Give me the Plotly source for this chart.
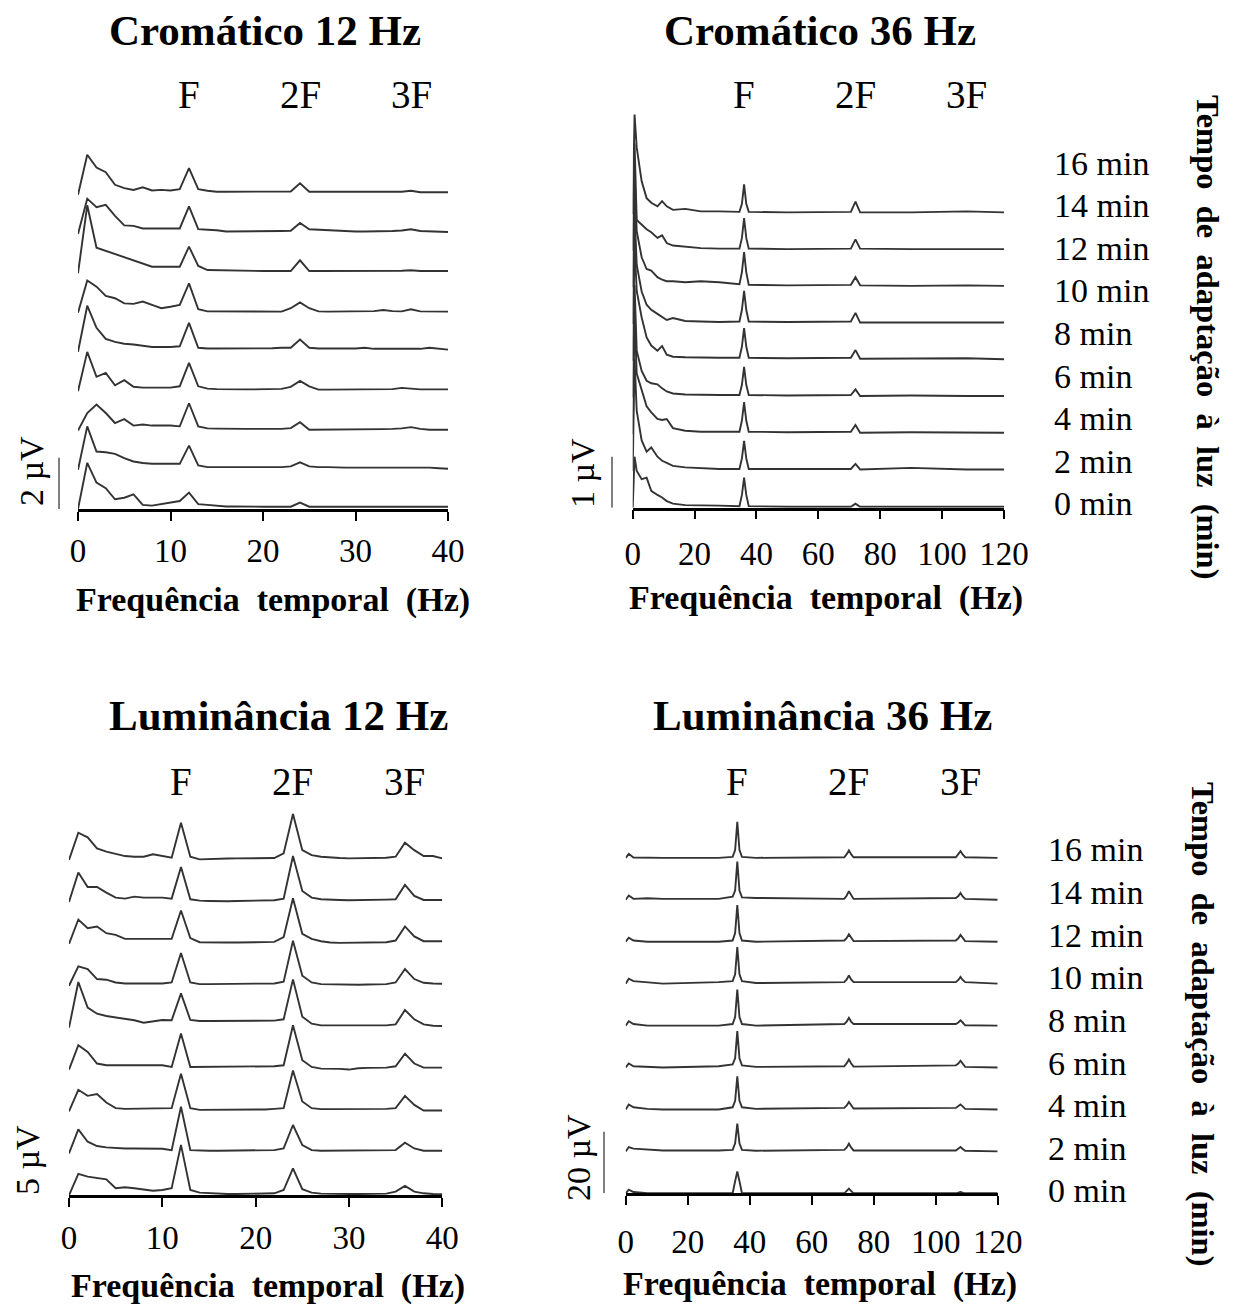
import plotly.graph_objects as go

W, H = 1238, 1307
FONT = "Liberation Serif"
LINE = "#333333"

time_labels = ["0 min", "2 min", "4 min", "6 min", "8 min", "10 min", "12 min", "14 min", "16 min"]

# ---------------- Cromático 12 Hz (µV, 1 Hz bins 0..40) ----------------
freq_12 = list(range(41))
c12_t0 = [0, 1.80, 1.03, 0.81, 0.38, 0.44, 0.57, 0.16, 0.13, 0.19, 0.26, 0.31, 0.64, 0.19, 0.16, 0.12, 0.10, 0.10, 0.09, 0.09, 0.09, 0.09, 0.09, 0.09, 0.25, 0.09, 0.09, 0.09, 0.09, 0.09, 0.09, 0.09, 0.09, 0.09, 0.09, 0.09, 0.10, 0.09, 0.09, 0.09, 0.09]
c12_t2 = [0, 1.69, 0.71, 0.68, 0.62, 0.45, 0.32, 0.26, 0.23, 0.23, 0.23, 0.23, 0.94, 0.17, 0.10, 0.10, 0.10, 0.10, 0.09, 0.09, 0.10, 0.10, 0.10, 0.13, 0.29, 0.13, 0.10, 0.10, 0.08, 0.08, 0.08, 0.08, 0.08, 0.08, 0.08, 0.10, 0.10, 0.10, 0.08, 0.06, 0.04]
c12_t4 = [0, 0.68, 1.01, 0.68, 0.29, 0.44, 0.19, 0.23, 0.19, 0.19, 0.19, 0.16, 1.06, 0.16, 0.08, 0.07, 0.06, 0.06, 0.06, 0.06, 0.06, 0.06, 0.06, 0.09, 0.32, 0.03, 0.03, 0.03, 0.03, 0.03, 0.03, 0.03, 0.04, 0.05, 0.06, 0.08, 0.13, 0.06, 0.03, 0.03, 0.03]
c12_t6 = [0, 1.53, 0.56, 0.71, 0.23, 0.43, 0.17, 0.14, 0.14, 0.14, 0.14, 0.19, 1.10, 0.19, 0.10, 0.08, 0.07, 0.07, 0.07, 0.07, 0.07, 0.08, 0.09, 0.17, 0.40, 0.19, 0.06, 0.06, 0.06, 0.06, 0.06, 0.06, 0.06, 0.07, 0.08, 0.13, 0.10, 0.07, 0.07, 0.07, 0.07]
c12_t8 = [0, 1.80, 0.94, 0.51, 0.39, 0.32, 0.29, 0.25, 0.19, 0.19, 0.19, 0.22, 1.13, 0.16, 0.13, 0.13, 0.13, 0.13, 0.13, 0.13, 0.13, 0.14, 0.16, 0.16, 0.48, 0.16, 0.13, 0.13, 0.12, 0.12, 0.13, 0.16, 0.12, 0.12, 0.12, 0.12, 0.12, 0.12, 0.16, 0.12, 0.09]
c12_t10 = [0, 1.25, 1.01, 0.65, 0.56, 0.36, 0.34, 0.43, 0.30, 0.17, 0.23, 0.30, 1.14, 0.13, 0.05, 0.05, 0.04, 0.04, 0.04, 0.05, 0.04, 0.04, 0.04, 0.17, 0.40, 0.17, 0.05, 0.04, 0.04, 0.04, 0.05, 0.05, 0.06, 0.10, 0.06, 0.05, 0.13, 0.05, 0.04, 0.04, 0.04]
c12_t12 = [0, 2.65, 1.00, 0.88, 0.75, 0.61, 0.50, 0.38, 0.26, 0.26, 0.26, 0.26, 1.04, 0.29, 0.13, 0.12, 0.12, 0.11, 0.10, 0.10, 0.09, 0.09, 0.09, 0.09, 0.51, 0.09, 0.09, 0.09, 0.09, 0.09, 0.09, 0.09, 0.09, 0.09, 0.09, 0.10, 0.12, 0.09, 0.09, 0.09, 0.09]
c12_t14 = [0, 1.38, 1.05, 1.14, 0.71, 0.34, 0.32, 0.22, 0.22, 0.22, 0.22, 0.22, 1.08, 0.19, 0.17, 0.15, 0.10, 0.10, 0.11, 0.11, 0.11, 0.11, 0.12, 0.13, 0.43, 0.19, 0.17, 0.14, 0.12, 0.11, 0.10, 0.10, 0.10, 0.11, 0.12, 0.14, 0.19, 0.12, 0.10, 0.08, 0.08]
c12_t16 = [0, 1.56, 1.06, 0.88, 0.39, 0.26, 0.19, 0.29, 0.17, 0.19, 0.17, 0.22, 1.04, 0.22, 0.16, 0.12, 0.12, 0.12, 0.11, 0.12, 0.12, 0.12, 0.12, 0.13, 0.45, 0.12, 0.12, 0.12, 0.12, 0.12, 0.11, 0.12, 0.12, 0.12, 0.12, 0.12, 0.16, 0.10, 0.10, 0.10, 0.10]

# ---------------- Luminância 12 Hz (µV, 1 Hz bins 0..40) ----------------
l12_t0 = [0, 1.94, 1.70, 1.55, 1.45, 0.64, 0.73, 0.64, 0.55, 0.42, 0.48, 0.64, 4.58, 0.48, 0.24, 0.18, 0.15, 0.12, 0.12, 0.12, 0.12, 0.12, 0.18, 0.48, 2.45, 0.55, 0.24, 0.15, 0.12, 0.12, 0.12, 0.12, 0.12, 0.12, 0.15, 0.33, 0.85, 0.33, 0.18, 0.12, 0.09]
l12_t2 = [0, 2.18, 1.06, 0.67, 0.55, 0.48, 0.45, 0.45, 0.45, 0.42, 0.42, 0.30, 4.24, 0.30, 0.24, 0.24, 0.24, 0.24, 0.24, 0.24, 0.24, 0.27, 0.30, 0.45, 2.58, 0.76, 0.30, 0.24, 0.24, 0.24, 0.24, 0.24, 0.24, 0.24, 0.24, 0.30, 0.97, 0.45, 0.24, 0.24, 0.24]
l12_t4 = [0, 1.97, 1.42, 1.58, 0.82, 0.30, 0.24, 0.24, 0.24, 0.24, 0.24, 0.30, 3.42, 0.30, 0.15, 0.15, 0.15, 0.15, 0.15, 0.15, 0.15, 0.18, 0.24, 0.30, 3.73, 0.91, 0.30, 0.21, 0.21, 0.21, 0.21, 0.21, 0.21, 0.21, 0.24, 0.30, 1.42, 0.60, 0.09, 0.09, 0.09]
l12_t6 = [0, 2.21, 1.61, 0.55, 0.39, 0.39, 0.39, 0.39, 0.39, 0.39, 0.39, 0.24, 3.27, 0.24, 0.24, 0.24, 0.24, 0.24, 0.24, 0.24, 0.24, 0.27, 0.30, 0.39, 4.03, 0.85, 0.24, 0.09, 0.09, 0.06, 0.00, 0.12, 0.15, 0.18, 0.18, 0.30, 1.45, 0.55, 0.18, 0.18, 0.18]
l12_t8 = [0, 4.15, 1.82, 1.27, 1.06, 0.91, 0.76, 0.67, 0.45, 0.60, 0.70, 0.67, 3.12, 0.70, 0.60, 0.60, 0.60, 0.60, 0.60, 0.60, 0.60, 0.60, 0.64, 0.76, 4.39, 1.00, 0.36, 0.21, 0.21, 0.21, 0.21, 0.21, 0.21, 0.21, 0.21, 0.30, 1.60, 0.76, 0.30, 0.18, 0.15]
l12_t10 = [0, 1.76, 1.52, 0.61, 0.55, 0.30, 0.21, 0.21, 0.21, 0.21, 0.21, 0.30, 2.97, 0.30, 0.15, 0.15, 0.15, 0.15, 0.15, 0.15, 0.15, 0.18, 0.21, 0.36, 4.09, 0.91, 0.30, 0.15, 0.12, 0.09, 0.09, 0.09, 0.12, 0.15, 0.15, 0.30, 1.52, 0.61, 0.27, 0.21, 0.18]
l12_t12 = [0, 2.21, 1.42, 1.58, 0.97, 0.82, 0.45, 0.45, 0.45, 0.45, 0.45, 0.45, 3.03, 0.52, 0.15, 0.12, 0.12, 0.12, 0.12, 0.12, 0.12, 0.15, 0.18, 0.61, 4.15, 0.91, 0.45, 0.24, 0.12, 0.09, 0.09, 0.09, 0.09, 0.12, 0.15, 0.30, 1.58, 0.67, 0.24, 0.24, 0.24]
l12_t14 = [0, 2.67, 1.36, 1.36, 0.85, 0.39, 0.30, 0.48, 0.39, 0.39, 0.39, 0.30, 3.18, 0.24, 0.12, 0.09, 0.06, 0.06, 0.09, 0.09, 0.12, 0.12, 0.15, 0.30, 4.18, 1.00, 0.39, 0.24, 0.18, 0.18, 0.15, 0.15, 0.18, 0.18, 0.21, 0.24, 1.55, 0.55, 0.18, 0.18, 0.18]
l12_t16 = [0, 2.48, 2.06, 1.06, 0.76, 0.55, 0.36, 0.30, 0.30, 0.52, 0.36, 0.21, 3.39, 0.30, 0.06, 0.10, 0.12, 0.14, 0.15, 0.15, 0.15, 0.15, 0.18, 0.60, 4.18, 0.90, 0.45, 0.30, 0.21, 0.18, 0.15, 0.15, 0.18, 0.18, 0.21, 0.30, 1.58, 0.90, 0.36, 0.36, 0.15]

# ---------------- Cromático 36 Hz (µV at read frequencies) ----------------
freq_c36 = [0, 0.6, 1.3, 2.9, 4.5, 6, 8, 9.5, 11, 13, 17, 22, 28, 34.5, 35.3, 36, 36.7, 37.5, 50, 70.5, 72, 73.5, 90, 108, 120]
c36_t0 = [0, 1.00, 0.72, 0.56, 0.59, 0.33, 0.25, 0.20, 0.13, 0.08, 0.05, 0.04, 0.04, 0.03, 0.25, 0.59, 0.25, 0.03, 0.02, 0.02, 0.08, 0.02, 0.02, 0.02, 0.02]
c36_t2 = [0, 2.20, 1.18, 0.60, 0.38, 0.46, 0.28, 0.20, 0.16, 0.10, 0.07, 0.05, 0.04, 0.04, 0.25, 0.59, 0.25, 0.04, 0.04, 0.04, 0.14, 0.03, 0.06, 0.03, 0.03]
c36_t4 = [0, 2.30, 1.19, 0.86, 0.55, 0.43, 0.30, 0.28, 0.30, 0.12, 0.07, 0.05, 0.05, 0.05, 0.27, 0.63, 0.27, 0.05, 0.04, 0.05, 0.18, 0.03, 0.04, 0.03, 0.03]
c36_t6 = [0, 2.20, 0.92, 0.52, 0.33, 0.28, 0.26, 0.18, 0.12, 0.08, 0.06, 0.05, 0.05, 0.05, 0.25, 0.60, 0.25, 0.05, 0.04, 0.05, 0.16, 0.03, 0.04, 0.03, 0.03]
c36_t8 = [0, 2.30, 1.37, 0.85, 0.46, 0.30, 0.20, 0.29, 0.12, 0.08, 0.07, 0.06, 0.06, 0.06, 0.28, 0.64, 0.28, 0.06, 0.05, 0.06, 0.21, 0.04, 0.04, 0.05, 0.03]
c36_t10 = [0, 2.20, 1.16, 0.64, 0.38, 0.28, 0.20, 0.14, 0.08, 0.12, 0.06, 0.05, 0.04, 0.05, 0.28, 0.65, 0.28, 0.05, 0.04, 0.05, 0.22, 0.03, 0.03, 0.03, 0.03]
c36_t12 = [0, 2.20, 1.10, 0.59, 0.36, 0.33, 0.20, 0.15, 0.12, 0.12, 0.10, 0.12, 0.10, 0.06, 0.30, 0.69, 0.30, 0.05, 0.04, 0.05, 0.20, 0.04, 0.03, 0.04, 0.03]
c36_t14 = [0, 2.10, 0.60, 0.50, 0.42, 0.36, 0.25, 0.30, 0.15, 0.10, 0.08, 0.05, 0.04, 0.04, 0.25, 0.64, 0.25, 0.04, 0.03, 0.04, 0.22, 0.04, 0.03, 0.03, 0.03]
c36_t16 = [0, 1.95, 1.30, 0.64, 0.31, 0.22, 0.15, 0.25, 0.15, 0.08, 0.10, 0.05, 0.05, 0.04, 0.20, 0.58, 0.20, 0.04, 0.03, 0.04, 0.24, 0.03, 0.03, 0.05, 0.03]

# ---------------- Luminância 36 Hz (µV at read frequencies) ----------------
freq_l36 = [0, 1, 2.5, 7, 12, 30, 34.5, 35.3, 36, 36.7, 37.5, 42, 70.5, 71.3, 72, 72.7, 73.5, 106.5, 107.3, 108, 108.7, 109.5, 120]
l36_t0 = [0, 1.2, 0.4, 0.0, 0.0, 0.0, 0.0, 3.9, 7.1, 3.9, 0.0, 0.0, 0.0, 0.8, 1.5, 0.8, 0.0, 0.0, 0.2, 0.4, 0.2, 0.0, 0.0]
l36_t2 = [0, 1.4, 0.9, 0.5, 0.3, 0.3, 0.5, 2.6, 9.0, 2.6, 0.5, 0.2, 0.5, 1.3, 2.5, 1.3, 0.3, 0.3, 0.8, 1.4, 0.8, 0.2, 0.0]
l36_t4 = [0, 1.6, 0.7, 0.2, 0.0, 0.0, 0.7, 2.8, 10.7, 2.8, 0.7, 0.2, 0.5, 1.3, 2.4, 1.3, 0.3, 0.5, 1.0, 1.6, 1.0, 0.2, 0.0]
l36_t6 = [0, 1.3, 0.4, 0.2, 0.0, 0.4, 1.0, 3.0, 11.8, 3.0, 0.7, 0.2, 0.4, 1.4, 2.6, 1.4, 0.3, 0.7, 1.3, 2.2, 1.2, 0.2, 0.0]
l36_t8 = [0, 1.4, 0.5, 0.0, 0.0, 0.0, 0.5, 2.8, 11.7, 2.8, 0.5, 0.0, 0.5, 1.3, 2.5, 1.3, 0.5, 0.5, 1.0, 1.7, 1.0, 0.1, 0.0]
l36_t10 = [0, 1.6, 0.8, 0.5, 0.0, 0.5, 0.8, 3.0, 11.9, 3.0, 0.8, 0.2, 0.5, 1.4, 2.7, 1.4, 0.5, 0.5, 1.2, 2.2, 1.2, 0.5, 0.0]
l36_t12 = [0, 1.3, 0.4, 0.0, 0.0, 0.0, 0.4, 2.8, 11.9, 2.8, 0.4, 0.0, 0.4, 1.2, 2.4, 1.2, 0.2, 0.4, 1.1, 2.2, 1.1, 0.2, 0.0]
l36_t14 = [0, 1.4, 0.3, 0.5, 0.3, 0.3, 1.0, 3.0, 12.4, 3.0, 0.8, 0.6, 0.3, 1.4, 2.8, 1.4, 0.3, 0.6, 1.2, 2.2, 1.1, 0.3, 0.0]
l36_t16 = [0, 1.3, 0.1, 0.0, 0.0, 0.0, 0.3, 2.5, 11.7, 2.5, 0.3, 0.0, 0.2, 1.2, 2.4, 1.2, 0.2, 0.2, 1.1, 2.2, 1.1, 0.2, 0.0]

c12_series = [c12_t0, c12_t2, c12_t4, c12_t6, c12_t8, c12_t10, c12_t12, c12_t14, c12_t16]
c36_series = [c36_t0, c36_t2, c36_t4, c36_t6, c36_t8, c36_t10, c36_t12, c36_t14, c36_t16]
l12_series = [l12_t0, l12_t2, l12_t4, l12_t6, l12_t8, l12_t10, l12_t12, l12_t14, l12_t16]
l36_series = [l36_t0, l36_t2, l36_t4, l36_t6, l36_t8, l36_t10, l36_t12, l36_t14, l36_t16]

# vertical spacing between stacked spectra (µV)
stack_step = {"c12": 1.53, "c36": 0.72, "l12": 3.81, "l36": 13.6}


def px(x):
    return x / W


def py(y):
    return 1 - y / H


# panel geometry in pixels: left, right, baseline, top, pixels per µV
panels = [
    dict(key="c12", ax="", freq=freq_12, series=c12_series, xr=[0, 40], ticks=[0, 10, 20, 30, 40],
         left=78, right=448, base=509, top=100, ppu=25.67, stand=2),
    dict(key="c36", ax="2", freq=freq_c36, series=c36_series, xr=[0, 120], ticks=[0, 20, 40, 60, 80, 100, 120],
         left=632.7, right=1004, base=507.7, top=100, ppu=51.0, stand=6),
    dict(key="l12", ax="3", freq=freq_12, series=l12_series, xr=[0, 40], ticks=[0, 10, 20, 30, 40],
         left=69, right=442.3, base=1195.3, top=790, ppu=11.0, stand=2),
    dict(key="l36", ax="4", freq=freq_l36, series=l36_series, xr=[0, 120], ticks=[0, 20, 40, 60, 80, 100, 120],
         left=625.7, right=997.7, base=1193.3, top=790, ppu=3.083, stand=8),
]

fig = go.Figure()
layout = dict(width=W, height=H, margin=dict(l=0, r=0, t=0, b=0, autoexpand=False), showlegend=False,
              paper_bgcolor="white", plot_bgcolor="white")

for p in panels:
    a = p["ax"]
    step = stack_step[p["key"]]
    for i, amps in enumerate(p["series"]):
        fig.add_trace(go.Scatter(
            x=p["freq"], y=[v + i * step for v in amps], mode="lines",
            line=dict(color=LINE, width=1.9), name=time_labels[i],
            xaxis="x" + a, yaxis="y" + a, hoverinfo="skip"))
    layout["xaxis" + a] = dict(
        domain=[px(p["left"]), px(p["right"])], range=p["xr"], anchor="y" + a,
        tickvals=p["ticks"], ticks="outside", ticklen=9, tickwidth=2, tickcolor="black",
        showline=True, linewidth=2.5, linecolor="black", showgrid=False, zeroline=False,
        automargin=False,
        tickfont=dict(family=FONT, size=33, color="black"), ticklabelstandoff=p["stand"])
    layout["yaxis" + a] = dict(
        domain=[py(p["base"]), py(p["top"])], range=[0, (p["base"] - p["top"]) / p["ppu"]],
        anchor="x" + a, visible=False, automargin=False)

fig.update_layout(**layout)

ann = []
def text(x, y, s, size, **kw):
    d = dict(x=px(x), y=py(y), xref="paper", yref="paper", text=s, showarrow=False,
             font=dict(family=FONT, size=size, color="black"), xanchor="center", yanchor="middle")
    d.update(kw)
    ann.append(d)

# titles
text(265, 30, "<b>Cromático 12 Hz</b>", 43)
text(820, 30, "<b>Cromático 36 Hz</b>", 43)
text(278, 716, "<b>Luminância 12 Hz</b>", 43)
text(822, 716, "<b>Luminância 36 Hz</b>", 43)

# harmonic labels, positioned on the frequency axes
harm = ["F", "2F", "3F"]
for p, ylab, f0 in [(panels[0], 95, 12), (panels[1], 95, 36), (panels[2], 781, 12), (panels[3], 781, 36)]:
    for k, h in enumerate(harm):
        ann.append(dict(x=f0 * (k + 1), y=py(ylab), xref="x" + p["ax"], yref="paper", text=h,
                        showarrow=False, font=dict(family=FONT, size=39, color="black"),
                        xanchor="center", yanchor="middle"))

# x-axis titles
xt = "<b>Frequência  temporal  (Hz)</b>"
text(273, 600, xt, 34)
text(826, 598, xt, 34)
text(268, 1286, xt, 34)
text(820, 1284, xt, 34)

# time labels
for k, lab in enumerate(reversed(time_labels)):
    text(1052, 163 + k * 42.6, lab, 34, xanchor="left")
    text(1046, 850 + k * 42.6, lab, 34, xanchor="left")

# vertical right titles
vt = "<b>Tempo  de  adaptação  à  luz  (min)</b>"
text(1208, 337, vt, 32.5, textangle=90)
text(1203, 1024, vt, 32.5, textangle=90)

# scale-bar labels
text(32, 471, "2 µV", 34, textangle=-90)
text(583, 473, "1 µV", 34, textangle=-90)
text(27, 1160, "5 µV", 34, textangle=-90)
text(578, 1158, "20 µV", 34, textangle=-90)

fig.update_layout(annotations=ann)

# scale bars (vertical extent in µV on each panel's own y axis)
bars = [(59, "y", 2), (612, "y2", 1), (604, "y4", 20)]
for xb, yr, amp in bars:
    fig.add_shape(type="line", xref="paper", yref=yr, x0=px(xb), x1=px(xb), y0=0, y1=amp,
                  line=dict(color="#555555", width=1.5))

fig.write_html("out.html")
